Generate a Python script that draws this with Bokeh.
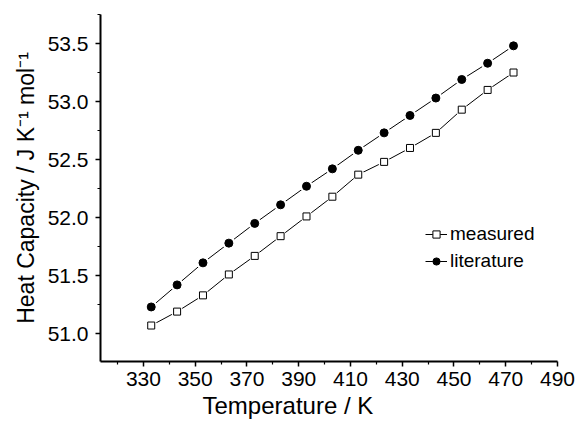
from bokeh.plotting import figure
from bokeh.models import FixedTicker, PrintfTickFormatter, Legend, LegendItem, Title, Range1d
from bokeh.embed import file_html
from bokeh.resources import INLINE

# Data
temperature = [333, 343, 353, 363, 373, 383, 393, 403, 413, 423, 433, 443, 453, 463, 473]
measured = [51.07, 51.19, 51.33, 51.51, 51.67, 51.84, 52.01, 52.18, 52.37, 52.48,
            52.60, 52.73, 52.93, 53.10, 53.25]
literature = [51.23, 51.42, 51.61, 51.78, 51.95, 52.11, 52.27, 52.42, 52.58, 52.73,
              52.88, 53.03, 53.19, 53.33, 53.48]
x_ticks = [330, 350, 370, 390, 410, 430, 450, 470, 490]
y_ticks = [51.0, 51.5, 52.0, 52.5, 53.0, 53.5]

FONT = "Liberation Sans"

p = figure(width=578, height=422, output_backend="svg", toolbar_location=None,
           x_range=Range1d(313.4, 490), y_range=Range1d(50.76, 53.75),
           min_border_left=100, min_border_right=21, min_border_top=14, min_border_bottom=61)
p.outline_line_color = None
p.xgrid.visible = False
p.ygrid.visible = False
p.background_fill_color = "white"
p.border_fill_color = "white"

for ax in (p.xaxis[0], p.yaxis[0]):
    ax.axis_line_color = "black"
    ax.axis_line_width = 2
    ax.major_tick_line_color = "black"
    ax.major_tick_line_width = 1.5
    ax.minor_tick_line_color = "black"
    ax.minor_tick_line_width = 1.2
    ax.major_tick_in = 0
    ax.major_tick_out = 5
    ax.minor_tick_in = 0
    ax.minor_tick_out = 3
    ax.major_label_text_font = FONT
    ax.major_label_text_font_size = "21px"
    ax.major_label_text_color = "black"
    ax.axis_label_text_font = FONT
    ax.axis_label_text_font_size = "23px"
    ax.axis_label_text_font_style = "normal"
    ax.axis_label_text_color = "black"

p.xaxis.ticker = FixedTicker(ticks=x_ticks, minor_ticks=[t + 10 for t in x_ticks] + [320])
p.yaxis.ticker = FixedTicker(ticks=y_ticks, minor_ticks=[t + 0.25 for t in y_ticks] + [50.75])
p.yaxis.formatter = PrintfTickFormatter(format="%.1f")
p.xaxis.major_label_standoff = 5
p.yaxis.major_label_standoff = 7
p.yaxis.axis_label = "Heat Capacity / J K\u207b\u00b9 mol\u207b\u00b9"
p.yaxis.axis_label_standoff = 6

xt = Title(text="Temperature / K", align="left", offset=102, text_font=FONT,
           text_font_size="24px", text_font_style="normal", text_color="black", standoff=2)
p.add_layout(xt, "below")

# measured
l1 = p.line(temperature, measured, line_color="black", line_width=1)
g1 = p.scatter(temperature, measured, marker="circle", size=12, fill_color="white",
               line_color=None)
m1 = p.scatter(temperature, measured, marker="square", size=7, fill_color="white",
               line_color="black", line_width=1)
# literature
l2 = p.line(temperature, literature, line_color="black", line_width=1)
g2 = p.scatter(temperature, literature, marker="circle", size=13, fill_color="white",
               line_color=None)
m2 = p.scatter(temperature, literature, marker="circle", size=8, fill_color="black",
               line_color="black")

legend = Legend(items=[LegendItem(label="measured", renderers=[l1, g1, m1]),
                       LegendItem(label="literature", renderers=[l2, g2, m2])],
                location=(325, 89), padding=0, margin=0, spacing=5,
                glyph_width=22, glyph_height=18, label_height=18, label_standoff=3,
                border_line_color=None, background_fill_alpha=0,
                label_text_font=FONT, label_text_font_size="19px", label_text_color="black")
p.add_layout(legend, "center")

open("out.html", "w").write(file_html(p, INLINE))
